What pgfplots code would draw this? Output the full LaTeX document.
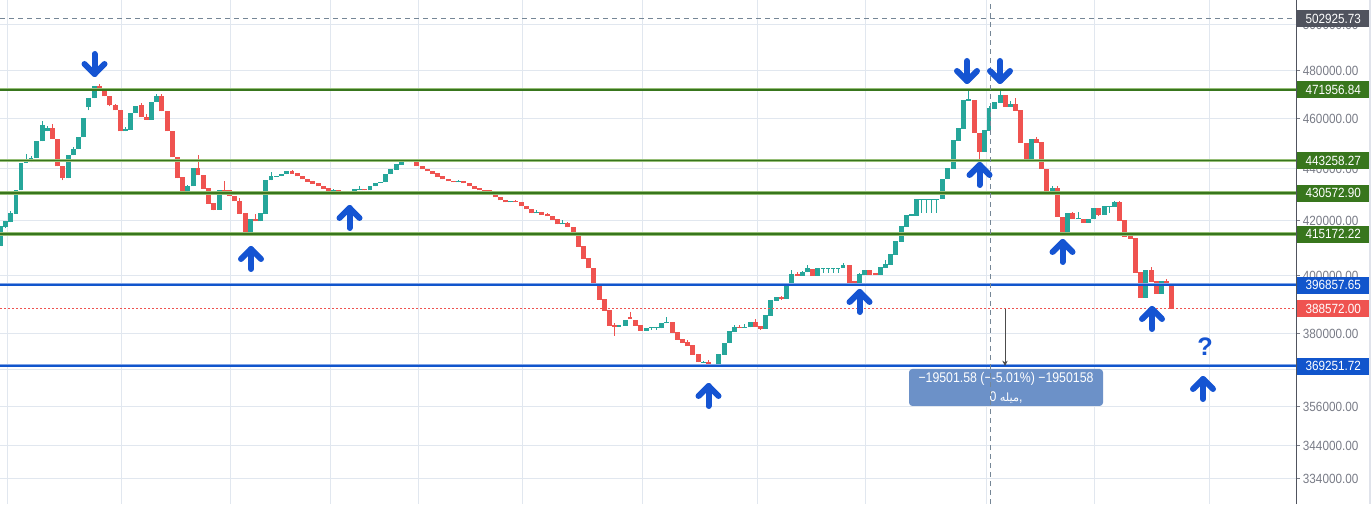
\documentclass[border=0pt]{standalone}
\usepackage{pgfplots}
\pgfplotsset{compat=1.18}
\usepackage{pgfplotstable}
\usepackage{fontspec}
\setmainfont{Liberation Sans}
\newfontfamily\labelfont{Liberation Sans}[FakeStretch=0.88]
\newfontfamily\arabicfont[Script=Arabic]{DejaVu Sans}
\TeXXeTstate=1
\usetikzlibrary{arrows.meta}

\definecolor{cgreen}{RGB}{38,166,154}
\definecolor{cred}{RGB}{239,83,80}
\definecolor{lvlgreen}{RGB}{56,118,29}
\definecolor{lvlgreenlight}{RGB}{150,190,120}
\definecolor{lvlblue}{RGB}{17,85,204}
\definecolor{lvlbluelight}{RGB}{130,165,230}
\definecolor{gridc}{RGB}{225,231,239}
\definecolor{tickc}{RGB}{120,123,134}
\definecolor{axisc}{RGB}{80,83,94}
\definecolor{arrowblue}{RGB}{21,84,210}
\definecolor{tipbg}{RGB}{108,145,200}
\definecolor{dashc}{RGB}{117,134,150}
\definecolor{edgec}{RGB}{224,227,235}

\pgfplotstableread{
x o h l c
1 410575 417945 410575 417945
5.3 417573 420065 417201 420065
10.3 419433 423819 419433 422955
16 422692 431803 422692 431803
21 431536 442181 431536 442181
26 442181 445853 442181 443477
31 442417 445061 442417 444269
36.3 443992 451035 443992 451035
42.3 450755 458846 450755 457502
47.3 454782 457095 454782 456159
68.3 436168 445457 436168 445457
73.3 445180 448516 445180 447837
78.3 447717 452524 447717 452524
83.3 452362 460358 452362 460358
88.3 464592 468615 463353 468615
94.3 468323 473646 468323 473646
125.3 454782 456566 454782 455874
130.7 455467 462286 455467 462286
135.3 462286 465296 462286 465296
151.3 459538 466951 459538 466951
156.3 466827 469995 466827 469451
187.3 429893 433733 429893 433347
193.3 433077 440335 433077 440335
219.3 424195 431803 424195 431803
250.3 415499 420813 415499 420813
260.3 419805 422955 419805 422955
265.7 422692 435662 422692 435662
271 435392 438500 435392 437217
276.7 436945 437217 436945 437217
281.7 436945 437995 436945 437995
286.7 437722 439161 437722 439161
333.3 431153 432073 431153 431803
354.3 430771 432073 430771 432073
359.3 431803 433077 431803 432189
370 431536 433347 431536 433347
375.3 433077 434504 433077 434504
380.3 434389 434890 434389 434890
385.7 434620 437995 434620 437995
390.7 437722 439904 437722 439904
396.3 439550 441906 439550 441906
401.3 441513 442809 441513 442809
406.7 442417 443477 442417 442966
458.3 434620 435662 434620 435276
510.3 426959 427603 426959 427603
536.3 422805 424195 422805 423180
562.3 418689 420177 418689 419321
619 382390 383068 382390 383068
625.3 382625 384791 382625 384791
646.3 381028 381945 381028 381945
651.3 381707 382390 381264 382047
656.3 381707 382390 381264 382047
661.3 381707 383646 381707 383646
666.3 383408 385801 383408 384088
703.3 370341 370997 370341 370669
713.3 369585 369815 369257 369815
718.3 369585 373217 369585 373217
724.3 372985 376886 372985 376886
729.3 376652 380927 376652 380927
734.3 380690 382863 380690 382285
744.3 382047 383306 382047 382390
750.3 382047 383986 382047 383986
765.3 381604 386386 381604 386386
770.3 386145 391570 386145 391570
776.3 391223 392618 391223 392618
786.3 391919 397534 391919 397534
791.3 397287 402154 397287 400729
802.3 400017 401798 400017 401442
807.3 401192 403949 401192 402621
817.3 400017 402764 400017 402764
823 402513 402872 401085 402872
828 402513 402872 401085 402872
833 402513 402872 401085 402872
838 402513 402872 401085 402872
843 402872 404667 402872 403949
859.3 396828 401085 396828 400729
864.7 400373 402154 400373 402154
880.3 400373 403231 400373 403231
885.7 402872 405744 402872 404308
890.7 403949 407918 403949 407918
895.7 407556 412660 407556 412660
901.3 412294 418205 412294 418205
906.3 417833 422316 417833 422316
911.3 421940 422692 421940 422692
916.3 421940 428364 421940 428364
921.7 427982 428364 423068 428364
926.7 427982 428364 423068 428364
931.7 427982 428364 423068 428364
936.7 427982 428364 423068 428364
942.3 428364 435951 428364 435951
947.3 435951 440335 435951 440335
953.3 439904 451435 439904 451435
958.3 451035 456281 451035 456281
963.7 455874 467779 455874 467779
968.3 467365 471960 467365 468197
984.3 446645 455467 446645 455467
989 455064 465296 455064 464468
994.3 464054 466951 464054 466951
1000.3 466537 472595 466537 469870
1010.3 464882 467365 464882 466123
1031.3 443477 451830 443477 451830
1052.3 430657 433347 430657 432575
1067.3 415241 423068 415241 423068
1078.3 420813 423443 420813 421189
1088.3 419321 420813 419321 420813
1093.3 420813 424952 420813 424952
1104.3 422316 425710 422316 425710
1109.3 425331 425710 423068 425710
1114.3 425331 427603 425331 427225
1145.3 392269 402154 392269 402154
1161.3 393666 398239 393666 398239
}\upc

\pgfplotstableread{
x o h l c
52.3 456281 457910 451717 451717
57.3 451717 451717 440846 440846
62.3 441121 441121 435392 436168
99.3 473646 474488 472255 472255
104.3 472255 472803 469159 469159
109.3 469451 469451 465006 465420
115.3 465710 466123 463353 463353
120.3 463640 463640 454782 454782
141.3 465710 466248 460646 460646
146.3 460646 462000 459538 459538
161.3 469451 469995 462943 462943
167.3 463230 463230 454782 454782
172.3 455064 455064 444388 444388
177.3 444665 444665 436168 436168
182.3 436828 436828 429893 429893
198 440335 445180 437334 437334
203.3 437606 437606 432189 432189
208.3 432459 432459 426467 426467
213.3 426732 426732 423932 424195
224.3 431803 435276 431153 431153
229.3 431536 431536 429243 429243
234.3 429510 429510 427338 427338
239.3 427603 428632 422692 422692
245.3 422955 422955 415499 415499
255.3 420813 422579 419805 419805
292 439161 439550 437995 437995
297.3 438267 438267 436945 436945
302.3 437217 437217 435822 435822
307.3 435951 435951 434890 434890
312.7 435276 435276 434118 434118
318.3 434504 434504 433077 433077
323.3 433347 433347 432189 432189
328.3 432459 432459 431153 431153
338.3 431803 431803 431039 431039
344.3 431421 431421 430771 430771
349.3 431153 431153 430771 430771
364.3 432189 432189 431536 431536
411.3 443202 443714 442417 442417
416.7 442809 442809 440846 440846
422.3 441121 441121 439826 439826
427.3 439904 439904 438889 438889
432.3 439044 439044 437995 437995
437.3 438384 438384 436828 436828
442.3 437217 437217 435822 435822
448.3 435951 435951 435006 435006
453.3 435276 435276 434620 434620
463.3 435276 435276 434234 434234
469.3 434504 434504 433077 433077
474.3 433347 433347 432189 432189
479.3 432575 432575 431536 431536
484.3 431803 431803 431536 431536
489.3 431803 431803 429625 430160
495.3 430542 430542 428861 428861
500.3 429128 429128 427717 427717
505.3 427982 427982 426959 426959
515.3 427603 427982 426959 426959
521.3 427225 427225 425445 425445
526.3 425710 425710 424308 424308
531.3 424574 424574 422805 422805
541.3 423180 423180 422316 422316
547.3 422692 423068 421677 421677
552.3 421940 421940 420437 420437
557.3 420700 420700 418689 418689
567.3 419321 419693 417573 417573
573.3 417833 417833 414613 414613
578.3 414872 414872 410465 410465
583.3 410831 410831 406106 406106
588.3 406469 406469 402621 402621
593.3 402872 402872 396581 396581
599.3 396828 396828 391570 391570
604.3 391919 391919 387863 387863
609.3 388104 388104 382727 382727
614.3 383068 383544 379341 382390
630 385801 387417 385114 385114
635.3 384791 384791 382625 382625
640.3 382966 382966 381028 381028
672.3 384088 384088 380353 380353
677.3 380589 380589 377890 377890
682.3 378227 378227 376987 376987
687.3 377221 377890 375983 375983
692.3 376217 376217 372985 372985
698.3 373217 373217 370341 370341
708.3 370570 371227 369585 369585
739.3 382390 382863 381707 381945
755.3 383986 385011 382390 382390
760.3 382523 382523 381264 381604
781.3 392618 393073 391570 391919
797.3 400729 401335 400017 400017
812.3 402513 402513 400017 400017
849.7 403949 403949 397534 397534
854.7 398239 398239 396828 396828
869.7 402154 402154 400373 400373
875.7 401085 401085 400373 400373
974.5 467779 467779 454257 454257
979.3 454257 454257 442692 446645
1005.3 469870 469870 464882 464882
1015.3 466123 468615 463230 463230
1020.3 463640 463640 450236 450236
1026.3 450236 450236 443477 443477
1036.3 451830 452645 450236 450236
1041.3 450635 450635 439904 439904
1046.3 439904 439904 430657 430657
1057.3 432575 433347 421564 421564
1062.3 421564 421564 414872 415241
1072.3 423068 423443 420813 420813
1083.3 420813 420813 419321 419321
1098.3 424952 424952 421940 422316
1119.3 427225 427603 420065 420065
1124.3 420437 420437 414133 414133
1130.3 414502 415979 413395 413395
1135.3 413764 413764 401085 401085
1140.3 401442 401442 392269 392269
1151.3 402154 403231 397886 397886
1156.3 398239 398239 393666 393666
1166.3 398239 398948 397181 397181
1171.3 397181 397181 388572 388572
}\downc

\tikzset{bluearrow/.style={arrowblue, line width=4.5pt, line cap=round, line join=round}}
\newcommand{\UpArr}[2]{%
  \draw[bluearrow] (#1pt-7.5pt,#2pt-7.5pt) -- (#1pt,#2pt) -- (#1pt+7.5pt,#2pt-7.5pt);
  \draw[bluearrow] (#1pt,#2pt) -- (#1pt,#2pt-15pt);}
\newcommand{\DnArr}[2]{%
  \draw[bluearrow] (#1pt-7.5pt,#2pt+7.5pt) -- (#1pt,#2pt) -- (#1pt+7.5pt,#2pt+7.5pt);
  \draw[bluearrow] (#1pt,#2pt) -- (#1pt,#2pt+15pt);}

\begin{document}
\begin{tikzpicture}
\begin{axis}[
  at={(0,0)}, anchor=south west,
  scale only axis, width=972pt, height=378pt,
  xmin=0, xmax=1296, ymode=log, ymin=326607, ymax=511282,
  axis line style={draw=none},
  xtick={7,121,230,330,418,522,642,757,865,986,1094,1209},
  xticklabels={}, xtick style={draw=none},
  ytick={334000,344000,356000,368000,380000,400000,420000,440000,460000,480000,500000},
  yticklabels={334000.00,344000.00,356000.00,368000.00,380000.00,400000.00,420000.00,440000.00,460000.00,480000.00,500000.00},
  yminorticks=false,
  ytick pos=right, yticklabel pos=right,
  tick align=outside, major tick length=3pt,
  ytick style={tickc, line width=0.75pt},
  yticklabel style={font=\labelfont\fontsize{10}{12}\selectfont, text=tickc, anchor=west, inner xsep=2pt},
  /pgf/number format/assume math mode=true,
  grid=major, grid style={gridc, line width=0.75pt},
]
% wicks and bodies
\addplot[draw=none, mark=none, forget plot, error bars/.cd, y dir=plus, y explicit, error mark=none,
  error bar style={cgreen, line width=0.75pt}]
  table[x=x, y=l, y error plus expr=\thisrow{h}-\thisrow{l}] {\upc};
\addplot[draw=none, mark=none, forget plot, error bars/.cd, y dir=plus, y explicit, error mark=none,
  error bar style={cgreen, line width=3.4pt}]
  table[x=x, y=o, y error plus expr=\thisrow{c}-\thisrow{o}] {\upc};
\addplot[draw=none, mark=none, forget plot, error bars/.cd, y dir=plus, y explicit, error mark=none,
  error bar style={cred, line width=0.75pt}]
  table[x=x, y=l, y error plus expr=\thisrow{h}-\thisrow{l}] {\downc};
\addplot[draw=none, mark=none, forget plot, error bars/.cd, y dir=plus, y explicit, error mark=none,
  error bar style={cred, line width=3.4pt}]
  table[x=x, y=c, y error plus expr=\thisrow{o}-\thisrow{c}] {\downc};
% level lines
\addplot[dashc, line width=0.75pt, dash pattern=on 3.75pt off 3pt, forget plot] coordinates {(0,502925.73) (1296,502925.73)};
\addplot[cred, line width=0.75pt, dash pattern=on 1.5pt off 1.5pt, forget plot] coordinates {(0,388572) (1296,388572)};
\addplot[lvlgreenlight, line width=2.4pt, forget plot] coordinates {(0,471956.84) (1296,471956.84)};
\addplot[lvlgreen, line width=1.1pt, forget plot] coordinates {(0,471956.84) (1296,471956.84)};
\addplot[lvlgreenlight, line width=2.4pt, forget plot] coordinates {(0,443258.27) (1296,443258.27)};
\addplot[lvlgreen, line width=1.1pt, forget plot] coordinates {(0,443258.27) (1296,443258.27)};
\addplot[lvlgreenlight, line width=2.4pt, forget plot] coordinates {(0,430572.90) (1296,430572.90)};
\addplot[lvlgreen, line width=1.1pt, forget plot] coordinates {(0,430572.90) (1296,430572.90)};
\addplot[lvlgreenlight, line width=2.4pt, forget plot] coordinates {(0,415172.22) (1296,415172.22)};
\addplot[lvlgreen, line width=1.1pt, forget plot] coordinates {(0,415172.22) (1296,415172.22)};
\addplot[lvlbluelight, line width=2.4pt, forget plot] coordinates {(0,396857.65) (1296,396857.65)};
\addplot[lvlblue, line width=1.1pt, forget plot] coordinates {(0,396857.65) (1296,396857.65)};
\addplot[lvlbluelight, line width=2.4pt, forget plot] coordinates {(0,369251.72) (1296,369251.72)};
\addplot[lvlblue, line width=1.1pt, forget plot] coordinates {(0,369251.72) (1296,369251.72)};
\coordinate (L1) at (axis cs:1296,502925.73);
\coordinate (L2) at (axis cs:1296,471956.84);
\coordinate (L3) at (axis cs:1296,443258.27);
\coordinate (L4) at (axis cs:1296,430572.90);
\coordinate (L5) at (axis cs:1296,415172.22);
\coordinate (L6) at (axis cs:1296,396857.65);
\coordinate (L7) at (axis cs:1296,388572);
\coordinate (L8) at (axis cs:1296,369251.72);
\end{axis}
% right axis line and panel edge
\draw[axisc, line width=0.75pt] (972pt,0pt) -- (972pt,378pt);
\fill[edgec] (1026.75pt,0pt) rectangle (1028.25pt,378pt);
% measurement tooltip
\node[fill=tipbg, rounded corners=2.5pt, minimum width=145.5pt, minimum height=27.75pt, inner sep=0pt] at (754.5pt,87.4pt) {};
\node[text=white, font=\labelfont\fontsize{10.5}{12}\selectfont] at (754.5pt,94pt) {−19501.58 (−-5.01\%) −1950158};
\node[text=white, font=\labelfont\fontsize{10.5}{12}\selectfont, inner sep=0pt] at (754.5pt,80pt) {0 {\arabicfont\fontsize{8.5}{10}\selectfont\beginR میله\endR},};
% crosshair
\draw[dashc, line width=0.75pt, dash pattern=on 3.75pt off 3pt] (742.5pt,0pt) -- (742.5pt,378pt);
% measure arrow
\draw[black!70, line width=0.6pt, -{Stealth[length=4pt,width=4pt]}] (753.75pt,146.25pt) -- (753.75pt,103.5pt);
% annotation arrows
\UpArr{188.25}{191.25}
\UpArr{262.125}{222}
\UpArr{531.375}{88.5}
\UpArr{644.625}{159}
\UpArr{734.625}{254.25}
\UpArr{796.875}{196.5}
\UpArr{864}{146.25}
\UpArr{902.25}{93.75}
\DnArr{70.875}{322.5}
\DnArr{725.25}{317.25}
\DnArr{750}{317.25}
\node[text=arrowblue, font=\fontsize{19}{20}\selectfont\bfseries] at (903.75pt,117.75pt) {?};
% price labels
\tikzset{plabel/.style={anchor=west, text=white, minimum width=54pt, minimum height=12.75pt, inner sep=0pt, xshift=0.75pt, font=\labelfont\fontsize{10}{12}\selectfont}}
\node[plabel, fill=axisc] at (L1) {502925.73};
\node[plabel, fill=lvlgreen] at (L2) {471956.84};
\node[plabel, fill=lvlgreen] at (L3) {443258.27};
\node[plabel, fill=lvlgreen] at (L4) {430572.90};
\node[plabel, fill=lvlgreen] at (L5) {415172.22};
\node[plabel, fill=lvlblue] at (L6) {396857.65};
\node[plabel, fill=cred] at (L7) {388572.00};
\node[plabel, fill=lvlblue] at (L8) {369251.72};
\pgfresetboundingbox
\path (0pt,0pt) rectangle (1028.25pt,378pt);
\end{tikzpicture}
\end{document}
